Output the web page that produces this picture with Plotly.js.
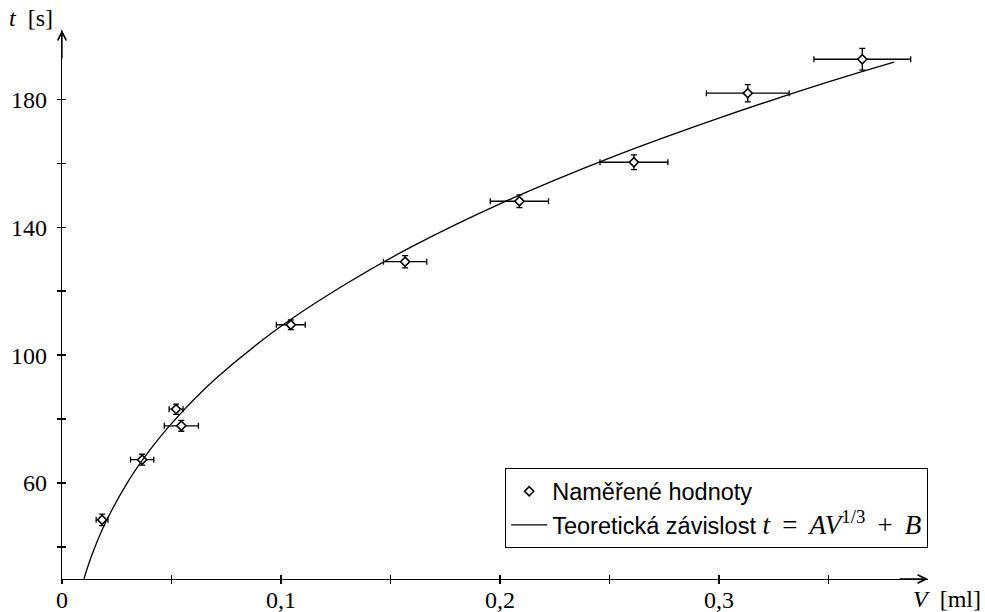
<!DOCTYPE html>
<html>
<head>
<meta charset="utf-8">
<script src="https://cdn.plot.ly/plotly-3.0.1.min.js"></script>
<style>html,body{margin:0;padding:0;background:#fff;}#chart{width:985px;height:612px;}</style>
</head>
<body>
<div id="chart"></div>
<script>
const volume = [0.0183, 0.0366, 0.0521, 0.0545, 0.1045, 0.1567, 0.2089, 0.2612, 0.3132, 0.3655];
const time = [48.5, 67.3, 83.1, 77.9, 109.5, 129.2, 148.1, 160.3, 181.9, 192.5];
const volumeErr = [0.0027, 0.0053, 0.0032, 0.0078, 0.0066, 0.0099, 0.0133, 0.0155, 0.0189, 0.0221];
const timeErr = [1.8, 1.7, 1.6, 1.7, 1.5, 1.9, 2.0, 2.3, 2.7, 3.4];

// Theoretical curve points
const curveV = [0.01, 0.012, 0.015, 0.02, 0.03, 0.04, 0.05, 0.07, 0.1, 0.13, 0.16, 0.2, 0.25, 0.3, 0.35, 0.38];
const curveT = [30.0, 34.3, 39.9, 47.8, 60.3, 70.2, 78.6, 92.5, 109.0, 122.4, 134.0, 147.3, 161.6, 174.1, 185.4, 191.6];

// Ticks
const xTickVals = [0, 0.05, 0.1, 0.15, 0.2, 0.25, 0.3, 0.35];
const xTickText = ['0', '', '0,1', '', '0,2', '', '0,3', ''];
const yTickVals = [40, 60, 80, 100, 120, 140, 160, 180];
const yTickText = ['', '60', '', '100', '', '140', '', '180'];

const xRange = [0, 0.3955];
const yRange = [30, 201.65];
const serif = 'Liberation Serif, Times New Roman, serif';
const sans = 'Liberation Sans, Arial, sans-serif';

const sp = '&#160;&#8201;';
const traces = [
  {
    x: volume, y: time, type: 'scatter', mode: 'markers',
    name: 'Naměřené hodnoty',
    marker: {symbol: 'diamond', size: 7, color: '#ffffff', line: {color: '#000000', width: 1.6}},
    error_x: {type: 'data', array: volumeErr, visible: true, color: '#000', thickness: 1.3, width: 3},
    error_y: {type: 'data', array: timeErr, visible: true, color: '#000', thickness: 1.3, width: 3},
    legendgroup: 'a', hoverinfo: 'skip'
  },
  {
    x: curveV, y: curveT, type: 'scatter', mode: 'lines',
    name: 'Teoretická závislost <span style="font-family:Liberation Serif;font-size:27px"><i>t</i>' + sp + '=' + sp +
      '<i>AV</i><sup>1/3</sup>' + sp + '+' + sp + '<i>B</i></span>',
    line: {color: '#000', width: 1.3, shape: 'spline', smoothing: 1},
    legendgroup: 'b', hoverinfo: 'skip'
  },
  {
    x: [], y: [], xaxis: 'x2', yaxis: 'y2', type: 'scatter', mode: 'markers', showlegend: false, hoverinfo: 'skip'
  }
];

const axisCommon = {
  showgrid: false, zeroline: false, showline: true, linecolor: '#000', linewidth: 1.3,
  ticks: 'outside', ticklen: 4, tickwidth: 1.3, tickcolor: '#000',
  tickfont: {family: serif, size: 24, color: '#000'}, fixedrange: true
};

const layout = {
  width: 985, height: 612,
  margin: {l: 62, r: 57, t: 30, b: 33},
  paper_bgcolor: '#fff', plot_bgcolor: '#fff',
  separators: ',.',
  showlegend: true,
  legend: {
    x: 1, y: 0.056, xanchor: 'right', yanchor: 'bottom',
    bordercolor: '#000', borderwidth: 1.2, bgcolor: '#fff',
    font: {family: sans, size: 23.5, color: '#000'},
    tracegroupgap: 0, traceorder: 'normal', itemwidth: 36
  },
  xaxis: Object.assign({}, axisCommon, {
    range: xRange, tickmode: 'array', tickvals: xTickVals, ticktext: xTickText, ticklabelstandoff: -5
  }),
  yaxis: Object.assign({}, axisCommon, {
    range: yRange, tickmode: 'array', tickvals: yTickVals, ticktext: yTickText, ticklabelstandoff: 5
  }),
  xaxis2: {overlaying: 'x', anchor: 'y2', range: xRange, tickmode: 'array', tickvals: xTickVals,
    ticks: 'inside', ticklen: 4, tickwidth: 1.3, tickcolor: '#000', showticklabels: false,
    showgrid: false, zeroline: false, showline: false, fixedrange: true},
  yaxis2: {overlaying: 'y', anchor: 'x2', range: yRange, tickmode: 'array', tickvals: yTickVals,
    ticks: 'inside', ticklen: 4, tickwidth: 1.3, tickcolor: '#000', showticklabels: false,
    showgrid: false, zeroline: false, showline: false, fixedrange: true},
  annotations: [
    {xref: 'x', yref: 'y', x: xRange[1], y: yRange[0], ax: -30, ay: 0, text: '', showarrow: true,
      arrowhead: 5, arrowsize: 1.3, arrowwidth: 1.3, arrowcolor: '#000', standoff: 0},
    {xref: 'x', yref: 'y', x: xRange[0], y: yRange[1], ax: 0, ay: 30, text: '', showarrow: true,
      arrowhead: 5, arrowsize: 1.3, arrowwidth: 1.3, arrowcolor: '#000', standoff: 0},
    {xref: 'paper', yref: 'paper', x: 1.0636, y: -0.036, xanchor: 'right', yanchor: 'middle',
      text: '<i>V</i>&#160;&#160;[ml]', showarrow: false, font: {family: serif, size: 24, color: '#000'}},
    {xref: 'paper', yref: 'paper', x: -0.064, y: 1.022, xanchor: 'left', yanchor: 'middle',
      text: '<i>t</i>&#160;&#160;[s]', showarrow: false, font: {family: serif, size: 24, color: '#000'}}
  ]
};

Plotly.newPlot('chart', traces, layout, {displayModeBar: false, staticPlot: true});
</script>
</body>
</html>
